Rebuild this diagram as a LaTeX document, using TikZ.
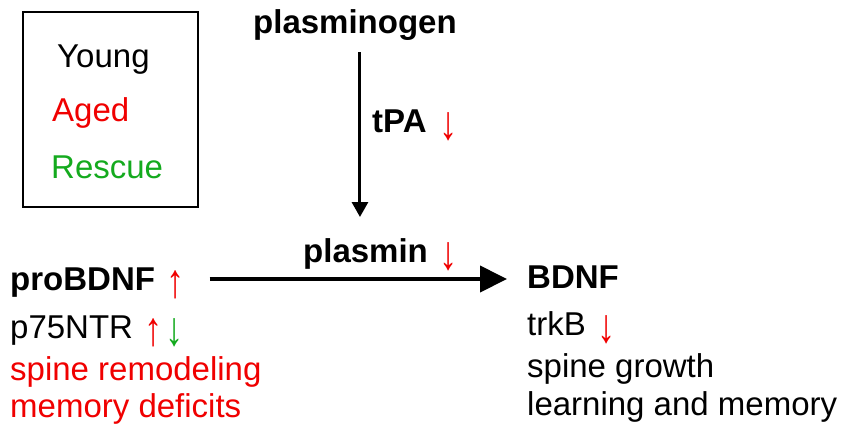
\documentclass[tikz,border=0pt]{standalone}
\usepackage{graphicx}
\usepackage{fontspec}
\setmainfont{Liberation Sans}
\usetikzlibrary{arrows.meta}
\definecolor{agedred}{RGB}{240,0,0}
\definecolor{rescuegreen}{RGB}{20,170,30}
\newcommand{\myDown}{{\normalfont\raisebox{-7pt}{\scalebox{1.1}[1.45]{↓}}}}
\newcommand{\myUp}{{\normalfont\raisebox{-7pt}{\scalebox{1.1}[1.45]{↑}}}}
\begin{document}
\begin{tikzpicture}[x=1pt,y=-1pt,
  txt/.style={font=\fontsize{33}{36}\selectfont, inner sep=0pt, anchor=base west},
  btxt/.style={txt, font=\fontsize{33}{36}\selectfont\bfseries},
  legendbox/.style={draw, line width=1.6pt},
  bigarrow/.style={line width=4pt, -{Triangle[length=27pt,width=26pt]}},
  vertarrow/.style={line width=3pt, -{Triangle[length=15pt,width=16pt]}}]
\useasboundingbox (0,0) rectangle (850,437);
% legend
\draw[legendbox] (23,12) rectangle (198,207);
\node[txt] (young) at (57,67) {Young};
\node[txt, text=agedred] (aged) at (52,121) {Aged};
\node[txt, text=rescuegreen] (rescue) at (51,178) {Rescue};
% top
\node[btxt] (plasminogen) at (253,33) {plasminogen};
\node[btxt] (tpa) at (372,132) {tPA \hspace{4pt}\textcolor{agedred}{\myDown}};
\node[btxt] (plasmin) at (303,262) {plasmin \hspace{2pt}\textcolor{agedred}{\myDown}};
% left column
\node[btxt] (probdnf) at (10,290) {proBDNF \hspace{2pt}\textcolor{agedred}{\myUp}};
\node[txt] (p75) at (10,338) {p75NTR \hspace{2pt}\textcolor{agedred}{\myUp}\hspace{3pt}\textcolor{rescuegreen}{\myDown}};
\node[txt, text=agedred] (remod) at (10,380) {spine remodeling};
\node[txt, text=agedred] (deficits) at (10,417) {memory deficits};
% right column
\node[btxt] (bdnf) at (527,288) {BDNF};
\node[txt] (trkb) at (527,335) {trkB \hspace{2pt}\textcolor{agedred}{\myDown}};
\node[txt] (growth) at (527,377) {spine growth};
\node[txt] (learning) at (527,415) {learning and memory};
% connectors
\draw[vertarrow] ([xshift=5pt,yshift=-12pt]plasminogen.south) -- ([xshift=5pt]plasminogen.south |- 0,217);
\coordinate (hstart) at (probdnf.base east |- 0,279);
\coordinate (hend) at (bdnf.base west |- 0,279);
\draw[bigarrow, shorten <=25pt, shorten >=20pt] (hstart) -- (hend);
\end{tikzpicture}
\end{document}
